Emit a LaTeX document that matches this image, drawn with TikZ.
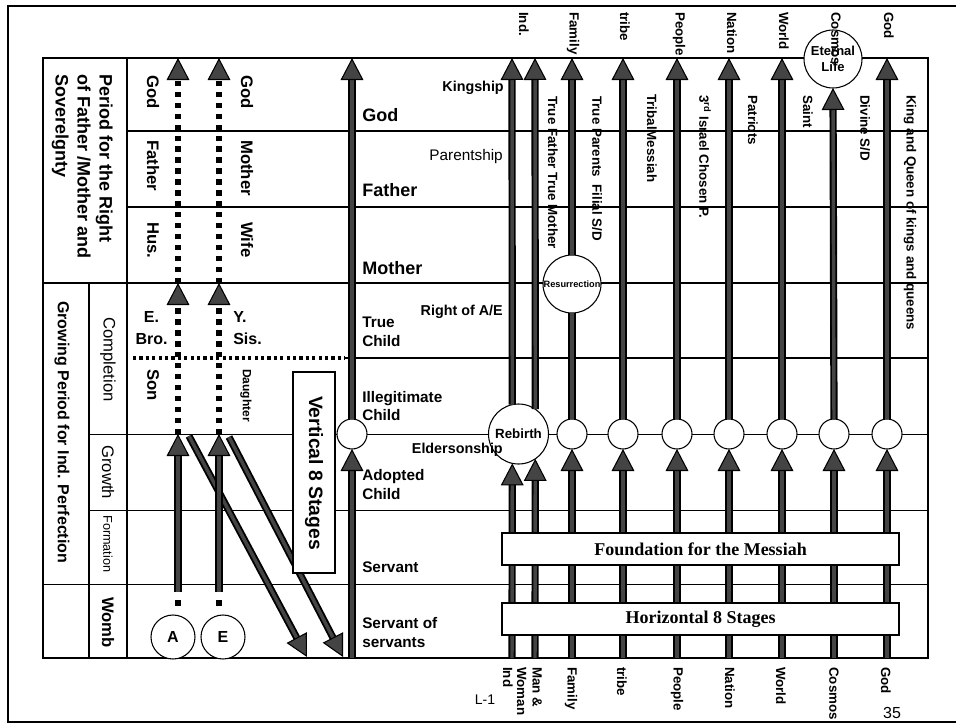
\documentclass[tikz,border=0pt]{standalone}
\usepackage{fontspec}
\setmainfont{Liberation Sans}
\newfontfamily\boxserif{Liberation Serif}
\usetikzlibrary{arrows.meta}
\definecolor{arrgray}{HTML}{444444}
\newcommand\FS[2]{\fontsize{#1}{#2}\selectfont}
\begin{document}
\begin{tikzpicture}[x=0.75pt,y=-0.75pt,
  tline/.style={line width=1pt},
  tthin/.style={line width=0.6pt},
  shaft/.style={draw=arrgray,line width=2.6pt,preaction={draw=black,line width=5.4pt}},
  bigarr/.style={draw=arrgray,line width=2.6pt,
     preaction={draw=black,line width=5.4pt,-,shorten >=8pt},
     -{Triangle[width=17pt,length=16.5pt,color=black,fill=arrgray,line width=0.8pt]}},
  dotarr/.style={draw=black,line width=4.2pt,dash pattern=on 4pt off 4.2pt,
     -{Triangle[width=17pt,length=16.5pt,color=black,fill=arrgray,line width=0.8pt]}},
  ring/.style={circle,draw,line width=0.8pt,fill=white,inner sep=0pt,outer sep=0pt},
  vlab/.style={rotate=-90,anchor=west,inner sep=0pt},
  hlab/.style={anchor=west,inner sep=0pt},
  rlab/.style={anchor=east,inner sep=0pt},
  smallv/.style={vlab,font=\bfseries\FS{10}{12}},
  rowbig/.style={hlab,font=\bfseries\FS{13.5}{16}},
  rowsm/.style={hlab,align=left,font=\bfseries\FS{11.5}{14}},
  aelab/.style={vlab,font=\bfseries\FS{12.5}{14}},
  boxnode/.style={draw,line width=0.8pt,fill=white,inner sep=0pt}
]
\useasboundingbox (0,0) rectangle (956,725);
% outer frame
\draw[line width=1pt] (956,6) -- (8,6) -- (8,722) -- (956,722);
% table grid
\draw[tline] (43,58) rectangle (928,658);
\draw[tline] (127,58) -- (127,658);
\draw[tline] (89,283) -- (89,658);
\draw[tline] (127,131) -- (928,131);
\draw[tline] (127,207) -- (928,207);
\draw[tline] (43,283) -- (928,283);
\draw[black,line width=2.4pt,dash pattern=on 2.4pt off 2.4pt] (133,358) -- (345,358);
\draw[tline] (345,358) -- (928,358);
\draw[tthin] (89,434) -- (928,434);
\draw[tthin] (89,510) -- (928,510);
\draw[tthin] (43,584) -- (928,584);

% ---- A / E column ----
\node[ring,minimum size=33pt,font=\bfseries\FS{12}{14}] (A) at (173,637) {A};
\node[ring,minimum size=33pt,font=\bfseries\FS{12}{14}] (E) at (223,637) {E};
\fill (175,599.5) rectangle (181,605.5);
\fill (216,599.5) rectangle (222,605.5);
\coordinate (aB) at (178,592); \coordinate (aM) at (178,434);
\coordinate (aT) at (178,283); \coordinate (aTop) at (178,58);
\coordinate (eB) at (219,592); \coordinate (eM) at (219,434);
\coordinate (eT) at (219,283); \coordinate (eTop) at (219,58);
\draw[dotarr] (aM) -- (aT);
\draw[dotarr] (aT) -- (aTop);
\draw[dotarr] (eM) -- (eT);
\draw[dotarr] (eT) -- (eTop);
\coordinate (d1s) at (189,436); \coordinate (d1e) at (307,657);
\coordinate (d2s) at (229,437); \coordinate (d2e) at (343,657);
\draw[bigarr] (d1s) -- (d1e);
\draw[bigarr] (d2s) -- (d2e);
\draw[bigarr] (aB) -- (aM);
\draw[bigarr] (eB) -- (eM);

% ---- main vertical ----
\node[ring,minimum size=22.5pt] (mc) at (352,434) {};
\coordinate (mB) at (352,658); \coordinate (mT) at (352,58);
\draw[bigarr] (mB) -- (mc.south);
\draw[bigarr] (mc.north) -- (mT);

% ---- right section ----
\node[ring,minimum size=45pt,font=\bfseries\FS{10}{12}] (reb) at (518.5,434) {Rebirth};
\coordinate (indB) at (512,658); \coordinate (indT) at (512,58);
\coordinate (mwB) at (535,658); \coordinate (mwT) at (535,58);
\draw[bigarr] (indB) -- (reb.-102.5);
\draw[bigarr] (mwB) -- (reb.-56.6);
\draw[bigarr] (reb.102.5) -- (indT);
\draw[bigarr] (reb.56.6) -- (mwT);

\node[ring,minimum size=22.5pt] (cfam) at (572,434) {};
\node[ring,minimum size=43.5pt,font=\bfseries\FS{6.9}{8}] (res) at (572,284) {Resurrection};
\coordinate (famB) at (572,658); \coordinate (famT) at (572,58);
\draw[bigarr] (famB) -- (cfam.south);
\draw[shaft] (cfam.north) -- (res.south);
\draw[bigarr] (res.north) -- (famT);

\foreach \x/\n in {623/tri,677/peo,729/nat,782/wor,887/god}{
  \node[ring,minimum size=22.5pt] (c\n) at (\x,434) {};
  \coordinate (\n-b) at (\x,658);
  \coordinate (\n-t) at (\x,58);
  \draw[bigarr] (\n-b) -- (c\n.south);
  \draw[bigarr] (c\n.north) -- (\n-t);
}
\node[ring,minimum size=22.5pt] (ccos) at (834,434) {};
\node[ring,minimum size=43.5pt,align=center,font=\bfseries\FS{9.75}{12.5}] (eter) at (833,59) {Eternal\\Life};
\coordinate (cosB) at (834,658);
\draw[bigarr] (cosB) -- (ccos.south);
\draw[bigarr] (ccos.north) -- (eter.south);

% ---- boxes ----
\node[boxnode,minimum width=31.5pt,minimum height=150.75pt] (vbox) at (314,472.5) {};
\node[rotate=-90,inner sep=0pt,font=\bfseries\FS{14.5}{16}] (vtext) at (314,473) {Vertical 8 Stages};
\node[boxnode,minimum width=297.75pt,minimum height=24pt,font=\boxserif\bfseries\FS{13.5}{15}] (found) at (700.5,549) {Foundation for the Messiah};
\node[boxnode,minimum width=297.75pt,minimum height=24pt,font=\boxserif\bfseries\FS{13.5}{15}] (horiz) at (700.5,619) {Horizontal 8 Stages};

% ---- left column texts ----
\node[vlab,anchor=north west,align=left,font=\bfseries\FS{13.5}{16.5}] (period) at (113,74) {Period for the Right\\of Father /Mother and\\Soverelgnty};
\node[vlab,font=\bfseries\FS{12}{14}] (growing) at (62,301) {Growing Period for Ind. Perfection};
\node[vlab,font=\FS{12.5}{14}] (compl) at (108,317) {Completion};
\node[vlab,font=\FS{12.5}{14}] (growth) at (108,445) {Growth};
\node[vlab,font=\FS{9.5}{11}] (formation) at (108,515) {Formation};
\node[vlab,font=\bfseries\FS{12.5}{14}] (womb) at (108,597) {Womb};

\node[aelab] (lgod) at (153,75) {God};
\node[aelab] (lfather) at (153,140) {Father};
\node[aelab] (lhus) at (153,222) {Hus.};
\node[aelab] (rgod) at (247,75) {God};
\node[aelab] (rmother) at (247,140) {Mother};
\node[aelab] (rwife) at (247,222) {Wife};
\node[align=center,inner sep=0pt,font=\bfseries\FS{12}{17}] (ebro) at (151.5,328) {E.\\Bro.};
\node[hlab,align=left,font=\bfseries\FS{12}{17}] (ysis) at (233,328) {Y.\\Sis.};
\node[aelab] (son) at (153,369) {Son};
\node[vlab,font=\bfseries\FS{9}{10}] (daughter) at (246,369) {Daughter};

% ---- row labels ----
\node[rowbig] (rgodl) at (362,115) {God};
\node[rowbig] (rfatl) at (362,190) {Father};
\node[rowbig] (rmotl) at (362,268) {Mother};
\node[rowsm] (rtrue) at (362,332) {True\\Child};
\node[rowsm] (rill) at (362,406) {Illegitimate\\Child};
\node[rowsm] (radop) at (362,484.5) {Adopted\\Child};
\node[rowsm] (rserv) at (362,567) {Servant};
\node[rowsm] (rservs) at (362,632.5) {Servant of\\servants};

\node[rlab,font=\bfseries\FS{10.75}{12}] (king) at (504,88) {Kingship};
\node[rlab,font=\FS{11.5}{12}] (parent) at (503,157) {Parentship};
\node[rlab,font=\bfseries\FS{10.75}{12}] (rightae) at (503,312) {Right of A/E};
\node[rlab,font=\bfseries\FS{10.75}{12}] (elder) at (503,450) {Eldersonship};

% ---- vertical texts in right section ----
\node[smallv] (tftm) at (553,96) {True Father True Mother};
\node[smallv] (tpfs) at (597,96) {True Parents\ \ Filial S/D};
\node[smallv] (tmes) at (652,94) {TribalMessiah};
\node[smallv] (isr) at (705,95) {3\textsuperscript{rd} Israel Chosen P.};
\node[smallv] (patr) at (753,95) {Patriots};
\node[smallv] (saint) at (808,95) {Saint};
\node[smallv] (dsd) at (865,95) {Divine S/D};
\node[smallv] (kq) at (910,95) {King and Queen of kings and queens};

% ---- top labels ----
\node[smallv] (tInd) at (524,12) {Ind.};
\node[smallv] (tFam) at (573,12) {Family};
\node[smallv] (tTri) at (625,12) {tribe};
\node[smallv] (tPeo) at (679,12) {People};
\node[smallv] (tNat) at (732,12) {Nation};
\node[smallv] (tWor) at (784,12) {World};
\node[smallv] (tCos) at (836,12) {Cosmos};
\node[smallv] (tGod) at (889,12) {God};

% ---- bottom labels ----
\node[smallv] (bInd) at (508,667) {Ind};
\node[smallv,anchor=north west,align=left,font=\bfseries\FS{10}{11.5}] (bMW) at (542,667) {Man \&\\Woman};
\node[smallv] (bFam) at (571,667) {Family};
\node[smallv] (bTri) at (622,667) {tribe};
\node[smallv] (bPeo) at (677,667) {People};
\node[smallv] (bNat) at (730,667) {Nation};
\node[smallv] (bWor) at (781,667) {World};
\node[smallv] (bCos) at (834,667) {Cosmos};
\node[smallv] (bGod) at (886,667) {God};

\node[font=\FS{10.5}{12}] (lone) at (485,700) {L-1};
\node[font=\FS{12}{14}] (page) at (892,713) {35};
\end{tikzpicture}
\end{document}
